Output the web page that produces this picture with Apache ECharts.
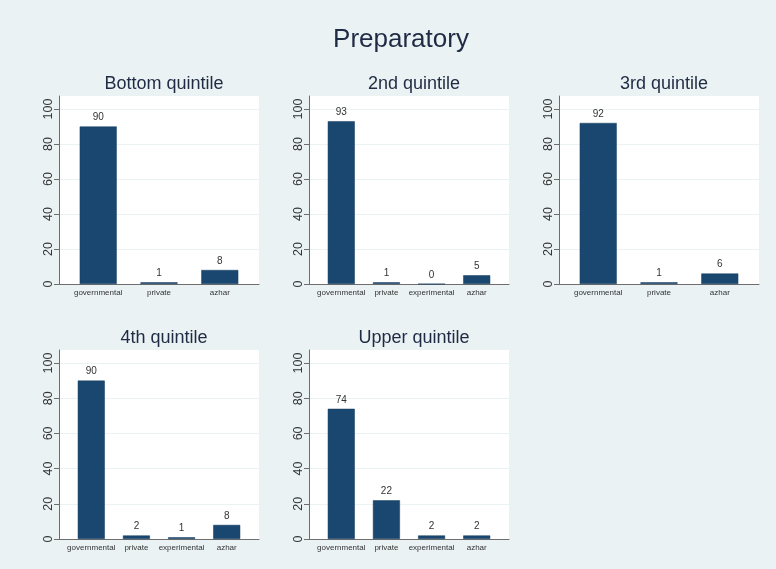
<!DOCTYPE html>
<html>
<head>
<meta charset="utf-8">
<script src="https://cdn.jsdelivr.net/npm/echarts@6/dist/echarts.min.js"></script>
<style>
html,body{margin:0;padding:0;background:#eaf2f3;}
#chart{width:776px;height:569px;}
</style>
</head>
<body>
<div id="chart"></div>
<script>
const mainTitle = 'Preparatory';
const panelTitles = ['Bottom quintile', '2nd quintile', '3rd quintile', '4th quintile', 'Upper quintile'];
const categories3 = ['governmental', 'private', 'azhar'];
const categories4 = ['governmental', 'private', 'experimental', 'azhar'];
const bottomValues = [90, 1, 8];
const secondValues = [93, 1, 0, 5];
const thirdValues = [92, 1, 6];
const fourthValues = [90, 2, 1, 8];
const upperValues = [74, 22, 2, 2];
const yTicks = [0, 20, 40, 60, 80, 100];

const panels = [
  { title: panelTitles[0], cats: categories3, vals: bottomValues },
  { title: panelTitles[1], cats: categories4, vals: secondValues },
  { title: panelTitles[2], cats: categories3, vals: thirdValues },
  { title: panelTitles[3], cats: categories4, vals: fourthValues },
  { title: panelTitles[4], cats: categories4, vals: upperValues }
];

const FONT = '"Liberation Sans", Arial, Helvetica, sans-serif';
const lefts = [59, 309, 559, 59, 309];
const tops = [96, 96, 96, 350, 350];
const heights = [188, 188, 188, 189, 189];
const W = 200;

const chart = echarts.init(document.getElementById('chart'));
const option = {
  backgroundColor: '#eaf2f3',
  animation: false,
  title: [{
    text: mainTitle,
    left: 396, top: 22, textAlign: 'center',
    textStyle: { fontFamily: FONT, fontSize: 26, fontWeight: 'normal', color: '#1f2a44' }
  }],
  grid: [], xAxis: [], yAxis: [], series: []
};

panels.forEach((p, k) => {
  const n = p.cats.length;
  const pad = n === 3 ? 0.645 : 0.715;
  option.title.push({
    text: p.title,
    left: lefts[k] + W / 2, top: tops[k] - 26, textAlign: 'center',
    textStyle: { fontFamily: FONT, fontSize: 18, fontWeight: 'normal', color: '#1f2a44' }
  });
  option.grid.push({
    left: lefts[k], top: tops[k], width: W, height: heights[k],
    show: true, backgroundColor: '#ffffff', borderWidth: 0
  });
  const idxs = p.cats.map((c, i) => i);
  option.xAxis.push({
    type: 'value', gridIndex: k, min: -pad, max: n - 1 + pad,
    splitLine: { show: false },
    axisLine: { show: true, onZero: false, lineStyle: { color: '#6e6e6e', width: 1 } },
    axisTick: { show: false },
    axisLabel: {
      customValues: idxs,
      formatter: (v) => p.cats[Math.round(v)],
      fontFamily: FONT, fontSize: 8, color: '#333', margin: 5
    }
  });
  option.yAxis.push({
    type: 'value', gridIndex: k, min: 0, max: 107.4, interval: 20,
    axisLine: { show: true, onZero: false, lineStyle: { color: '#6e6e6e', width: 1 } },
    axisTick: { show: true, length: 5, customValues: yTicks, lineStyle: { color: '#6e6e6e' } },
    splitLine: { show: true, lineStyle: { color: '#eaf2f3', width: 1 } },
    axisLabel: {
      customValues: yTicks,
      rotate: 90, fontFamily: FONT, fontSize: 12.5, color: '#333', margin: 4
    }
  });
  option.series.push({
    type: 'bar', xAxisIndex: k, yAxisIndex: k,
    barWidth: n === 3 ? 37 : 27,
    data: p.vals.map((v, i) => [i, v]),
    itemStyle: { color: '#1a476f', borderColor: '#163c5e', borderWidth: 0.5 },
    label: {
      show: true, position: 'top', distance: 4,
      formatter: (d) => String(d.value[1]),
      fontFamily: FONT, fontSize: 10, color: '#333'
    }
  });
});

chart.setOption(option);
</script>
</body>
</html>
